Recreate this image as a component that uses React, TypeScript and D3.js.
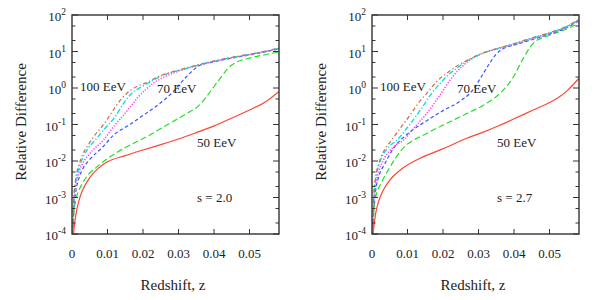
import React from "react";
import * as d3 from "d3";

// axis ticks
const xTicks = [0, 0.01, 0.02, 0.03, 0.04, 0.05];
const xTickLabels = ["0", "0.01", "0.02", "0.03", "0.04", "0.05"];
const yDecades = [-4, -3, -2, -1, 0, 1, 2];
const yMinorMults = [2, 5];

// series order: 50, 60, 70, 80, 90, 100 EeV
const energies = [50, 60, 70, 80, 90, 100];

// s = 2.0 panel, [redshift, relative difference]
const red50L = [[0.0004, 1e-4], [0.001, 3e-4], [0.002, 8.5e-4], [0.003, 1.6e-3], [0.005, 3.5e-3], [0.0075, 6.5e-3], [0.01, 9.5e-3], [0.015, 0.014], [0.02, 0.02], [0.025, 0.028], [0.03, 0.04], [0.035, 0.06], [0.04, 0.092], [0.045, 0.15], [0.05, 0.25], [0.055, 0.45], [0.0583, 0.8]];
const green60L = [[0.0002, 1e-4], [0.0005, 3.5e-4], [0.001, 8e-4], [0.002, 1.6e-3], [0.003, 2.5e-3], [0.0041, 3.7e-3], [0.007, 6.9e-3], [0.0107, 0.013], [0.0154, 0.0245], [0.021, 0.046], [0.0267, 0.097], [0.0323, 0.2], [0.036, 0.35], [0.038, 0.6], [0.04, 1.1], [0.042, 2.0], [0.044, 3.5], [0.046, 4.9], [0.05, 6.6], [0.055, 8.4], [0.0583, 9.8]];
const blue70L = [[0.0002, 1e-4], [0.0005, 4.5e-4], [0.001, 1.3e-3], [0.002, 3.5e-3], [0.003, 6e-3], [0.005, 0.011], [0.0088, 0.025], [0.0116, 0.05], [0.0163, 0.1], [0.0201, 0.18], [0.0248, 0.38], [0.0285, 0.79], [0.0318, 1.85], [0.034, 3.0], [0.036, 4.2], [0.04, 5.2], [0.045, 6.6], [0.05, 8.1], [0.055, 10], [0.0583, 11.8]];
const magenta80L = [[0.0002, 1e-4], [0.0005, 6e-4], [0.001, 1.8e-3], [0.002, 5e-3], [0.003, 8.5e-3], [0.005, 0.016], [0.0088, 0.037], [0.0121, 0.097], [0.0149, 0.2], [0.0168, 0.34], [0.0187, 0.58], [0.0206, 0.88], [0.0229, 1.35], [0.026, 2.0], [0.03, 2.9], [0.035, 4.0], [0.04, 5.3], [0.045, 6.7], [0.05, 8.2], [0.055, 10.2], [0.0583, 12]];
const cyan90L = [[0.0002, 1e-4], [0.0005, 8e-4], [0.001, 2.5e-3], [0.002, 6.5e-3], [0.003, 0.012], [0.0045, 0.022], [0.0065, 0.037], [0.0093, 0.079], [0.0121, 0.16], [0.0145, 0.38], [0.0168, 0.71], [0.019, 1.0], [0.022, 1.45], [0.025, 2.1], [0.03, 3.0], [0.035, 4.1], [0.04, 5.4], [0.045, 6.8], [0.05, 8.3], [0.055, 10.3], [0.0583, 12.2]];
const brown100L = [[0.0002, 1e-4], [0.0005, 1e-3], [0.001, 3e-3], [0.002, 8e-3], [0.003, 0.015], [0.0045, 0.027], [0.006, 0.045], [0.0088, 0.097], [0.0107, 0.18], [0.013, 0.39], [0.0154, 0.71], [0.0182, 1.1], [0.021, 1.4], [0.025, 2.2], [0.03, 3.1], [0.035, 4.2], [0.04, 5.5], [0.045, 6.9], [0.05, 8.4], [0.055, 10.5], [0.0583, 12.4]];

// s = 2.7 panel
const red50R = [[0.0003, 1e-4], [0.001, 3.5e-4], [0.002, 8.5e-4], [0.0032, 1.6e-3], [0.005, 3e-3], [0.0079, 5.6e-3], [0.0126, 0.0107], [0.0173, 0.017], [0.0215, 0.025], [0.0267, 0.042], [0.031, 0.06], [0.036, 0.095], [0.0405, 0.15], [0.0454, 0.25], [0.05, 0.4], [0.0525, 0.55], [0.055, 0.85], [0.0583, 1.85]];
const green60R = [[0.0002, 1e-4], [0.0005, 4e-4], [0.001, 1e-3], [0.0027, 2.6e-3], [0.0051, 6.9e-3], [0.0079, 0.018], [0.0154, 0.057], [0.0201, 0.097], [0.0267, 0.2], [0.0323, 0.38], [0.036, 0.71], [0.0398, 2.0], [0.0426, 6.5], [0.0454, 16.7], [0.05, 28], [0.055, 42], [0.0583, 59]];
const blue70R = [[0.0002, 1e-4], [0.0005, 5e-4], [0.001, 1.5e-3], [0.002, 4e-3], [0.0035, 8e-3], [0.006, 0.022], [0.01, 0.055], [0.015, 0.12], [0.02, 0.24], [0.025, 0.45], [0.0285, 0.9], [0.031, 2.2], [0.033, 4.5], [0.035, 8.5], [0.037, 12], [0.04, 15], [0.045, 21], [0.05, 30], [0.055, 46], [0.0583, 70]];
const magenta80R = [[0.0002, 1e-4], [0.0005, 7e-4], [0.001, 2e-3], [0.002, 5.5e-3], [0.0035, 0.012], [0.006, 0.024], [0.0088, 0.037], [0.0121, 0.087], [0.0154, 0.2], [0.0182, 0.47], [0.0201, 0.88], [0.022, 1.66], [0.0239, 2.8], [0.0267, 5], [0.03, 8], [0.036, 12.3], [0.04, 15.5], [0.045, 22], [0.05, 31], [0.055, 48], [0.0583, 73]];
const cyan90R = [[0.0002, 1e-4], [0.0005, 1e-3], [0.001, 3e-3], [0.002, 8e-3], [0.0035, 0.017], [0.005, 0.026], [0.007, 0.037], [0.0098, 0.079], [0.0126, 0.18], [0.0149, 0.38], [0.0168, 0.71], [0.0192, 1.35], [0.0215, 2.3], [0.0239, 3.5], [0.0267, 5.5], [0.03, 8], [0.036, 12.5], [0.04, 16], [0.045, 23], [0.05, 32], [0.055, 49], [0.0583, 74]];
const brown100R = [[0.0002, 1e-4], [0.0005, 1.2e-3], [0.001, 3.5e-3], [0.002, 9e-3], [0.0035, 0.02], [0.0055, 0.037], [0.008, 0.08], [0.0107, 0.18], [0.013, 0.38], [0.0154, 0.71], [0.0182, 1.5], [0.021, 2.5], [0.0239, 4.0], [0.0267, 5.6], [0.03, 8.2], [0.036, 12.7], [0.04, 16.5], [0.045, 23.5], [0.05, 33], [0.055, 50], [0.0583, 76]];

const seriesL = [red50L, green60L, blue70L, magenta80L, cyan90L, brown100L];
const seriesR = [red50R, green60R, blue70R, magenta80R, cyan90R, brown100R];

const lineStyles = [
  { color: "#ff4433", dash: "none", width: 1.2 },
  { color: "#22e022", dash: "6,3", width: 1.2 },
  { color: "#3355ff", dash: "3.5,2.5", width: 1.2 },
  { color: "#ff44ff", dash: "1.3,1.5", width: 1.5 },
  { color: "#00dcf0", dash: "5,2,1.3,2", width: 1.3 },
  { color: "#c8784a", dash: "4,2.5,1.3,2.5", width: 1.3 },
];

const FONT = "'Liberation Serif', 'Times New Roman', serif";
const INK = "#222";

function Panel({ left, series, sLabel, id }: { left: number; series: number[][][]; sLabel: string; id: string }) {
  const x = d3.scaleLinear().domain([0, 0.0583]).range([left + 72, left + 279]);
  const y = d3.scaleLog().domain([1e-4, 1e2]).range([234, 15]);
  const [x0, x1] = x.range();
  const [yb, yt] = y.range();
  const line = d3
    .line<number[]>()
    .x((d) => x(d[0]))
    .y((d) => y(d[1]))
    .curve(d3.curveMonotoneX);

  const minors: number[] = [];
  yDecades.slice(0, -1).forEach((e) => yMinorMults.forEach((m) => minors.push(m * Math.pow(10, e))));

  return (
    <g>
      <defs>
        <clipPath id={id}>
          <rect x={x0} y={yt} width={x1 - x0} height={yb - yt} />
        </clipPath>
      </defs>
      <g clipPath={`url(#${id})`}>
        {series.map((s, i) => (
          <path
            key={energies[i]}
            d={line(s) || ""}
            fill="none"
            stroke={lineStyles[i].color}
            strokeWidth={lineStyles[i].width}
            strokeDasharray={lineStyles[i].dash}
          />
        ))}
      </g>
      {/* frame */}
      <rect x={x0} y={yt} width={x1 - x0} height={yb - yt} fill="none" stroke="#333" strokeWidth={1.4} />
      {/* x ticks */}
      {xTicks.map((t, i) => (
        <g key={t}>
          {i > 0 && <line x1={x(t)} x2={x(t)} y1={yb} y2={yb - 5} stroke="#333" />}
          {i > 0 && <line x1={x(t)} x2={x(t)} y1={yt} y2={yt + 5} stroke="#333" />}
          <text x={x(t)} y={258} textAnchor="middle" fontFamily={FONT} fontSize={13} fill={INK}>
            {xTickLabels[i]}
          </text>
        </g>
      ))}
      {/* y ticks */}
      {yDecades.map((e) => {
        const v = Math.pow(10, e);
        return (
          <g key={e}>
            <line x1={x0} x2={x0 + 6} y1={y(v)} y2={y(v)} stroke="#333" />
            <line x1={x1} x2={x1 - 6} y1={y(v)} y2={y(v)} stroke="#333" />
            <text x={x0 - 6} y={y(v) + 6} textAnchor="end" fontFamily={FONT} fontSize={13} fill={INK}>
              <tspan>10</tspan>
              <tspan dy={-6} fontSize={9.5}>{e < 0 ? `-${-e}` : `${e}`}</tspan>
            </text>
          </g>
        );
      })}
      {minors.map((v) => (
        <g key={v}>
          <line x1={x0} x2={x0 + 3.5} y1={y(v)} y2={y(v)} stroke="#333" />
          <line x1={x1} x2={x1 - 3.5} y1={y(v)} y2={y(v)} stroke="#333" />
        </g>
      ))}
      {/* labels */}
      <text x={left + 173} y={290} textAnchor="middle" fontFamily={FONT} fontSize={15} fill={INK}>
        Redshift, z
      </text>
      <text
        transform={`translate(${left + 26},122) rotate(-90)`}
        textAnchor="middle"
        fontFamily={FONT}
        fontSize={15}
        fill={INK}
      >
        Relative Difference
      </text>
      <g fontFamily={FONT} fontSize={13} fill={INK}>
        <text x={left + 80} y={91}>100 EeV</text>
        <text x={left + 157} y={93}>70 EeV</text>
        <text x={left + 197} y={147}>50 EeV</text>
        <text x={left + 197} y={202}>{sLabel}</text>
      </g>
    </g>
  );
}

export default function App() {
  return (
    <svg
      width={599}
      height={300}
      style={{ position: "absolute", left: 0, top: 0, background: "#fff" }}
    >
      <Panel left={0} series={seriesL} sLabel="s = 2.0" id="clipL" />
      <Panel left={300} series={seriesR} sLabel="s = 2.7" id="clipR" />
    </svg>
  );
}
